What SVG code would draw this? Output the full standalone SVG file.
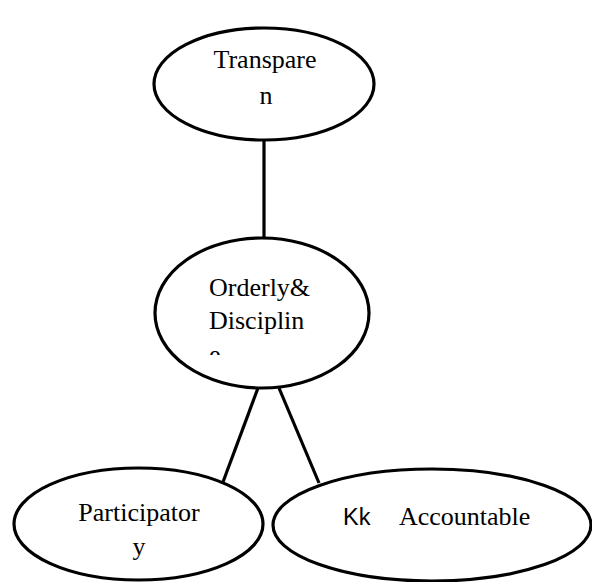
<svg xmlns="http://www.w3.org/2000/svg" width="592" height="582" viewBox="0 0 592 582">
  <style>
    .node { fill: #ffffff; stroke: #000000; stroke-width: 3.2; }
    .edge { stroke: #000000; stroke-width: 3.2; fill: none; }
    .serif { font-family: "Liberation Serif", "Times New Roman", serif; font-size: 26px; fill: #000000; }
    .sans { font-family: "Liberation Sans", Arial, sans-serif; font-size: 23.5px; fill: #000000; }
  </style>
  <defs>
    <clipPath id="clipMid">
      <rect x="190" y="260" width="150" height="95"/>
    </clipPath>
  </defs>
  <rect width="592" height="582" fill="#ffffff"/>
  <g id="connectors">
    <line class="edge" x1="264" y1="140" x2="264" y2="238"/>
    <line class="edge" x1="258" y1="388" x2="223" y2="482"/>
    <line class="edge" x1="279" y1="388" x2="319" y2="483"/>
  </g>
  <g id="node-transparen">
    <ellipse class="node" cx="264" cy="84" rx="110" ry="56"/>
    <text class="serif" x="265" y="68" text-anchor="middle">Transpare</text>
    <text class="serif" x="266" y="104" text-anchor="middle">n</text>
  </g>
  <g id="node-orderly">
    <ellipse class="node" cx="262" cy="313" rx="107" ry="75"/>
    <g clip-path="url(#clipMid)">
      <text class="serif" x="209" y="296">Orderly&amp;</text>
      <text class="serif" x="209" y="329">Disciplin</text>
      <text class="serif" x="209" y="363">e</text>
    </g>
  </g>
  <g id="node-participatory">
    <ellipse class="node" cx="138.5" cy="524" rx="124.5" ry="56"/>
    <text class="serif" x="139" y="521" text-anchor="middle">Participator</text>
    <text class="serif" x="139" y="555" text-anchor="middle">y</text>
  </g>
  <g id="node-accountable">
    <ellipse class="node" cx="432" cy="525" rx="159" ry="56"/>
    <text class="sans" x="343" y="525">Kk</text>
    <text class="serif" x="399" y="525">Accountable</text>
  </g>
</svg>
